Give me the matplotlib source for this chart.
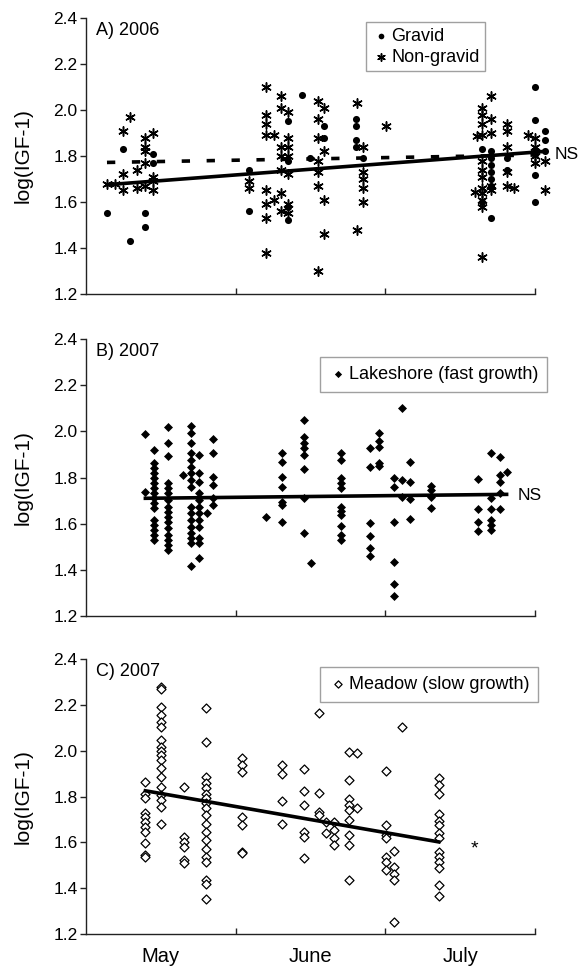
import numpy as np
import matplotlib
matplotlib.use("Agg")
import matplotlib.pyplot as plt
from matplotlib.ticker import FixedLocator, FormatStrFormatter, NullFormatter

plt.rcParams['font.family'] = ['Liberation Sans', 'DejaVu Sans']

# x positions are days after 1 May (30 days per month on the axis)
months = ['May', 'June', 'July']
month_mid = [15, 45, 75]
month_edges = [30, 60, 90]
yticks = [1.2, 1.4, 1.6, 1.8, 2.0, 2.2, 2.4]

# A) 2006, gravid females
gravid_day = [4.2, 7.4, 8.9, 11.9, 11.9, 13.5, 13.5,
              32.6, 32.6, 40.5, 40.5, 40.5, 40.5, 43.3, 44.9, 47.7, 47.7,
              54.2, 54.2, 54.2, 54.2, 55.6,
              79.3, 79.3, 81.1, 81.1, 81.1, 81.1, 81.1, 81.1, 81.1,
              84.4, 84.4, 90.0, 90.0, 90.0, 90.0, 90.0, 92.0, 92.0, 92.0]
gravid_val = [1.55, 1.83, 1.43, 1.55, 1.49, 1.81, 1.77,
              1.74, 1.56, 1.95, 1.78, 1.58, 1.52, 2.065, 1.79, 1.93, 1.88,
              1.96, 1.93, 1.87, 1.84, 1.79,
              1.83, 1.60, 1.82, 1.79, 1.76, 1.73, 1.70, 1.67, 1.53,
              1.79, 1.74, 2.10, 1.955, 1.82, 1.717, 1.60, 1.91, 1.87, 1.82]

# A) 2006, non-gravid females
nongravid_day = [4.2, 5.8, 7.4, 8.9, 7.4, 7.4, 10.3, 10.3, 11.9, 11.9, 11.9, 11.9, 11.9,
                 13.5, 13.5, 13.5, 13.5,
                 32.6, 32.6, 36.0, 36.0, 36.0, 36.0, 36.0, 36.0, 36.0, 36.0, 37.7, 37.7,
                 39.1, 39.1, 39.1, 39.1, 39.1, 39.1, 39.1,
                 40.5, 40.5, 40.5, 40.5, 40.5, 40.5, 40.5,
                 46.5, 46.5, 46.5, 46.5, 46.5, 46.5, 46.5, 47.7, 47.7, 47.7, 47.7,
                 54.4, 54.4, 55.6, 55.6, 55.6, 55.6, 55.6, 60.2,
                 78.3, 78.0, 79.3, 79.3, 79.3, 79.3, 79.3, 79.3, 79.3, 79.3, 79.3, 79.3, 79.3, 79.3,
                 81.1, 81.1, 81.1, 81.1, 81.1,
                 84.4, 84.4, 84.4, 84.4, 84.4, 85.8,
                 88.6, 90.0, 90.0, 90.0, 90.0, 92.0, 92.0]
nongravid_val = [1.68, 1.68, 1.91, 1.97, 1.72, 1.65, 1.74, 1.66, 1.88, 1.84, 1.82, 1.77, 1.67,
                 1.90, 1.71, 1.69, 1.65,
                 1.69, 1.66, 2.10, 1.98, 1.94, 1.89, 1.65, 1.59, 1.53, 1.38, 1.89, 1.61,
                 2.06, 2.01, 1.84, 1.80, 1.74, 1.64, 1.56,
                 1.99, 1.88, 1.84, 1.80, 1.72, 1.59, 1.55,
                 2.04, 1.96, 1.88, 1.78, 1.73, 1.67, 1.30, 2.01, 1.82, 1.61, 1.46,
                 2.03, 1.48, 1.84, 1.73, 1.70, 1.66, 1.60, 1.93,
                 1.885, 1.645, 2.01, 1.98, 1.94, 1.89, 1.78, 1.74, 1.71, 1.66, 1.64, 1.61, 1.58, 1.36,
                 2.06, 1.96, 1.90, 1.67, 1.65,
                 1.94, 1.91, 1.84, 1.73, 1.67, 1.66,
                 1.89, 1.88, 1.84, 1.80, 1.77, 1.78, 1.65]

# B) 2007, lakeshore
lake_day = [11.9, 11.9] + [13.7] * 16 + [16.5] * 16 + [19.5] + [21.1] * 17 + [22.7] * 12 \
    + [25.4] * 6 + [24.2] \
    + [36.0] + [39.2] * 7 + [43.7] * 8 + [45.1] + [51.1] * 11 + [57.0] * 6 + [58.8] * 5 \
    + [61.7] * 6 + [63.3] * 3 + [64.9] * 4 + [69.2] * 4 \
    + [78.5] * 4 + [81.2] * 6 + [83.0] * 5 + [84.3]
lake_val = [1.987, 1.739,
            1.919, 1.861, 1.840, 1.818, 1.796, 1.775, 1.753, 1.731, 1.710, 1.688, 1.666,
            1.616, 1.594, 1.573, 1.551, 1.529,
            2.02, 1.951, 1.893, 1.775, 1.753, 1.731, 1.703, 1.674, 1.652, 1.630, 1.609,
            1.580, 1.551, 1.529, 1.508, 1.486,
            1.811,
            2.023, 1.991, 1.951, 1.908, 1.876, 1.847, 1.818, 1.789, 1.760, 1.674, 1.645,
            1.616, 1.587, 1.558, 1.536, 1.515, 1.417,
            1.898, 1.818, 1.782, 1.731, 1.703, 1.674, 1.645, 1.616, 1.587, 1.536, 1.515, 1.450,
            1.967, 1.905, 1.804, 1.768, 1.710, 1.681,
            1.645,
            1.630,
            1.905, 1.869, 1.803, 1.760, 1.696, 1.681, 1.609,
            2.049, 1.974, 1.951, 1.926, 1.897, 1.835, 1.710, 1.561,
            1.431,
            1.905, 1.876, 1.797, 1.775, 1.753, 1.674, 1.657, 1.638, 1.591, 1.551, 1.529,
            1.926, 1.847, 1.603, 1.545, 1.494, 1.458,
            1.994, 1.959, 1.934, 1.861, 1.850,
            1.797, 1.760, 1.609, 1.435, 1.339, 1.287,
            2.100, 1.790, 1.717,
            1.869, 1.782, 1.705, 1.622,
            1.763, 1.746, 1.717, 1.667,
            1.792, 1.662, 1.609, 1.570,
            1.908, 1.710, 1.662, 1.616, 1.594, 1.573,
            1.890, 1.811, 1.782, 1.734, 1.662,
            1.825]

# C) 2007, meadow
meadow_day = [11.9] * 11 + [15.0] * 18 + [19.6] * 6 + [24.1] * 19 + [31.3] * 7 + [39.3] * 4 \
    + [43.6] * 6 + [46.6] * 4 + [48.1] * 2 + [49.7] * 4 + [52.8] * 9 + [54.4] * 2 \
    + [60.2] * 7 + [61.7] * 5 + [63.4] + [70.7] * 14
meadow_val = [1.864, 1.813, 1.792, 1.726, 1.711, 1.689, 1.668, 1.646, 1.595, 1.544, 1.537,
              2.279, 2.268, 2.192, 2.155, 2.126, 2.104, 2.046, 2.017, 2.000, 1.981, 1.959,
              1.923, 1.886, 1.843, 1.806, 1.784, 1.755, 1.682,
              1.840, 1.624, 1.602, 1.580, 1.522, 1.508,
              2.187, 2.039, 1.886, 1.857, 1.835, 1.813, 1.792, 1.770, 1.748, 1.719, 1.682,
              1.646, 1.609, 1.573, 1.537, 1.515, 1.434, 1.417, 1.355,
              1.966, 1.937, 1.908, 1.711, 1.675, 1.559, 1.552,
              1.937, 1.898, 1.781, 1.682,
              1.918, 1.825, 1.762, 1.646, 1.624, 1.530,
              2.163, 1.816, 1.733, 1.719,
              1.690, 1.639,
              1.690, 1.656, 1.617, 1.588,
              1.995, 1.874, 1.787, 1.762, 1.741, 1.697, 1.631, 1.588, 1.435,
              1.991, 1.748,
              1.912, 1.675, 1.631, 1.617, 1.537, 1.515, 1.479,
              1.563, 1.493, 1.464, 1.435, 1.253,
              2.102,
              1.879, 1.850, 1.810, 1.723, 1.694, 1.675, 1.639, 1.617, 1.559, 1.537, 1.515,
              1.486, 1.413, 1.365]

# regression lines (end points)
trend06_day = [4.2, 92.0]
trend06_nongravid = [1.675, 1.820]
trend06_gravid = [1.772, 1.805]
trend_lake_day = [11.9, 84.3]
trend_lake = [1.710, 1.727]
trend_meadow_day = [11.9, 70.7]
trend_meadow = [1.825, 1.602]

fig = plt.figure(figsize=(5.82, 9.68), dpi=100)
left, width = 0.1478, 0.7715
ax_a = fig.add_axes([left, 0.6963, width, 0.2851])
ax_b = fig.add_axes([left, 0.3636, width, 0.2862])
ax_c = fig.add_axes([left, 0.0351, width, 0.2841])

for ax in (ax_a, ax_b, ax_c):
    ax.set_xlim(0, 90)
    ax.set_ylim(1.2, 2.4)
    for s in ('top', 'right'):
        ax.spines[s].set_visible(False)
    for s in ('left', 'bottom'):
        ax.spines[s].set_linewidth(1.0)
        ax.spines[s].set_color('#222222')
    ax.set_yticks(yticks)
    ax.yaxis.set_major_formatter(FormatStrFormatter('%.1f'))
    ax.tick_params(axis='y', direction='out', length=4, width=1, labelsize=12.5, pad=2,
                   color='#222222')
    ax.xaxis.set_major_locator(FixedLocator(month_edges))
    ax.xaxis.set_major_formatter(NullFormatter())
    ax.tick_params(axis='x', which='major', direction='in', length=4, width=1, color='#222222')
    ax.xaxis.set_minor_locator(FixedLocator(month_mid))
    ax.tick_params(axis='x', which='minor', length=0, labelsize=14.5, pad=9)
    ax.set_ylabel('log(IGF-1)', fontsize=15)
    ax.yaxis.set_label_coords(-0.118, 0.5)

ax_c.set_xticks(month_mid, minor=True)
ax_c.set_xticklabels(months, minor=True)

legend_style = dict(loc='upper left', borderaxespad=0, fontsize=13, frameon=True,
                    fancybox=False, edgecolor='#888888', handletextpad=0.1,
                    handlelength=1.0, markerscale=0.8)

# A) 2006
ax_a.scatter(gravid_day, gravid_val, marker='o', s=26, color='black', linewidths=0,
             clip_on=False, zorder=2, label='Gravid')
ax_a.scatter(nongravid_day, nongravid_val, marker=(6, 2, 0), s=45, color='black',
             linewidths=1.1, clip_on=False, zorder=2, label='Non-gravid')
ax_a.plot(trend06_day, trend06_nongravid, color='black', lw=2.6, clip_on=False, zorder=3)
ax_a.plot(trend06_day, trend06_gravid, color='black', lw=2.6, dashes=(2.3, 4.6),
          clip_on=False, zorder=3)
ax_a.text(0.022, 0.985, 'A) 2006', transform=ax_a.transAxes, fontsize=13, va='top')
ax_a.text(94.0, 1.805, 'NS', fontsize=12.5, va='center', clip_on=False)
leg = ax_a.legend(bbox_to_anchor=(0.624, 0.985), borderpad=0.3, labelspacing=0.25,
                  **legend_style)
leg.get_frame().set_linewidth(1.0)

# B) 2007 lakeshore
ax_b.scatter(lake_day, lake_val, marker='D', s=21, color='black', linewidths=0,
             clip_on=False, zorder=2, label='Lakeshore (fast growth)')
ax_b.plot(trend_lake_day, trend_lake, color='black', lw=2.6, zorder=3)
ax_b.text(0.022, 0.985, 'B) 2007', transform=ax_b.transAxes, fontsize=13, va='top')
ax_b.text(86.6, 1.724, 'NS', fontsize=12.5, va='center', clip_on=False)
leg = ax_b.legend(bbox_to_anchor=(0.521, 0.935), borderpad=0.5, **legend_style)
leg.get_frame().set_linewidth(1.0)

# C) 2007 meadow
ax_c.scatter(meadow_day, meadow_val, marker='D', s=21, facecolors='white',
             edgecolors='black', linewidths=0.9, clip_on=False, zorder=2,
             label='Meadow (slow growth)')
ax_c.plot(trend_meadow_day, trend_meadow, color='black', lw=2.6, zorder=3)
ax_c.text(0.022, 0.985, 'C) 2007', transform=ax_c.transAxes, fontsize=13, va='top')
ax_c.text(77.9, 1.57, '*', fontsize=14, ha='center', va='center', clip_on=False)
leg = ax_c.legend(bbox_to_anchor=(0.521, 0.971), borderpad=0.5, **legend_style)
leg.get_frame().set_linewidth(1.0)

fig.savefig('out.png', dpi=100)
